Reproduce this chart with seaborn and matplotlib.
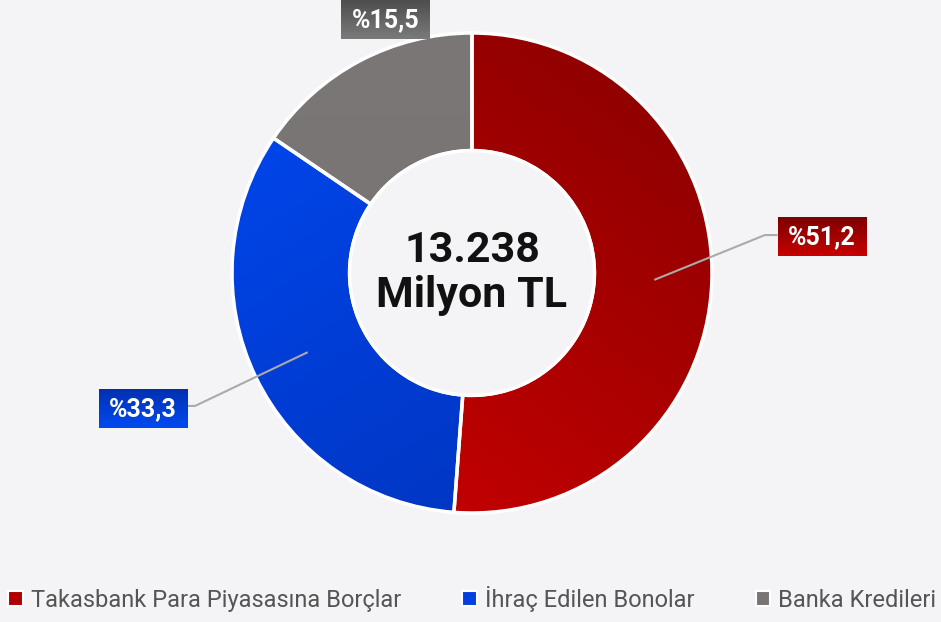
import numpy as np
import pandas as pd
import matplotlib
matplotlib.use("Agg")
import matplotlib.pyplot as plt
import seaborn as sns
from matplotlib.colors import LinearSegmentedColormap
from matplotlib.patches import Patch, Circle

# Data
categories = ["Takasbank Para Piyasasına Borçlar", "İhraç Edilen Bonolar", "Banka Kredileri"]
shares = [51.2, 33.3, 15.5]
labels = ["%51,2", "%33,3", "%15,5"]
total_label = "13.238\nMilyon TL"

df = pd.DataFrame({"kategori": categories, "pay": shares, "etiket": labels})

# colours: (gradient start, gradient end) for wedges and label boxes
wedge_grad = [("#870000", "#d00000"), ("#0048f2", "#0032b8"), ("#7a7776", "#747170")]
box_grad = [("#7c0000", "#c80000"), ("#0030b0", "#004af2"), ("#4e4e4e", "#7a7a7a")]
legend_cols = ["#b00000", "#0040e0", "#787574"]
bg = "#f4f4f7"

sns.set_theme(style="white")
plt.rcParams["font.family"] = ["Roboto", "DejaVu Sans"]

fig = plt.figure(figsize=(9.41, 6.22), dpi=100)
fig.patch.set_facecolor(bg)
ax = fig.add_axes([0, 0, 1, 1])
ax.set_facecolor(bg)
# pie centre at (472, 273) px, radius 240 px
ax.set_xlim(-472 / 240, (941 - 472) / 240)
ax.set_ylim(-(622 - 273) / 240, 273 / 240)
ax.set_aspect("equal")
ax.axis("off")

wedges, _ = ax.pie(df["pay"], startangle=90, counterclock=False, radius=1,
                   wedgeprops=dict(width=0.49, edgecolor="white", linewidth=2.5))

n = 300
xx, yy = np.meshgrid(np.linspace(-1, 1, n), np.linspace(-1, 1, n))
grad_dirs = [(-0.6, -0.8), (0.5, -0.8), (0, -1)]
for w, (c1, c2), (dx, dy) in zip(wedges, wedge_grad, grad_dirs):
    t = xx * dx + yy * dy
    t = (t - t.min()) / (t.max() - t.min())
    cmap = LinearSegmentedColormap.from_list("g", [c1, c2])
    im = ax.imshow(t, cmap=cmap, extent=[-1, 1, -1, 1], origin="lower", zorder=1)
    im.set_clip_path(w)
    w.set_facecolor("none")
    w.set_zorder(2)

ax.add_patch(Circle((0, 0), 0.51, facecolor=bg, edgecolor="white", lw=2.5, zorder=3))
ax.text(0, 0, total_label, ha="center", va="center", fontsize=31, fontweight="bold",
        color="#111111", linespacing=1.1, zorder=4)

# label boxes + leader lines
mids = 90 - (np.cumsum(shares) - np.array(shares) / 2) * 3.6
box_pos = [(1.458, 0.15), (-1.371, -0.567), (-0.36, 1.055)]
elbows = [(1.22, 0.158), (-1.154, -0.554), None]
bw, bh = 0.37, 0.16
for i, (lab, (bx, by)) in enumerate(zip(df["etiket"], box_pos)):
    if elbows[i] is not None:
        a = np.deg2rad(mids[i])
        sx, sy = 0.76 * np.cos(a), 0.76 * np.sin(a)
        ex, ey = elbows[i]
        edge = bx - bw / 2 if bx > 0 else bx + bw / 2
        ax.plot([sx, ex, edge], [sy, ey, ey], color="#aaaaaa", lw=1.5, zorder=5,
                solid_capstyle="butt")
    g = np.linspace(0, 1, 50).reshape(-1, 1)
    cmap = LinearSegmentedColormap.from_list("b", [box_grad[i][1], box_grad[i][0]])
    ax.imshow(g, cmap=cmap, extent=[bx - bw / 2, bx + bw / 2, by - bh / 2, by + bh / 2],
              origin="lower", aspect="auto", zorder=6)
    ax.text(bx, by, lab, ha="center", va="center", color="white", fontsize=18,
            fontweight="bold", zorder=7)

ax.set_xlim(-472 / 240, (941 - 472) / 240)
ax.set_ylim(-(622 - 273) / 240, 273 / 240)

handles = [Patch(facecolor=c, edgecolor="white", linewidth=1.5) for c in legend_cols]
fig.legend(handles, df["kategori"], loc="lower center", ncol=3, frameon=False,
           bbox_to_anchor=(0.502, -0.018), fontsize=17, labelcolor="#555555",
           handlelength=0.6, handleheight=0.6, handletextpad=0.35, columnspacing=2.6)

fig.savefig("out.png", dpi=100, facecolor=bg)
